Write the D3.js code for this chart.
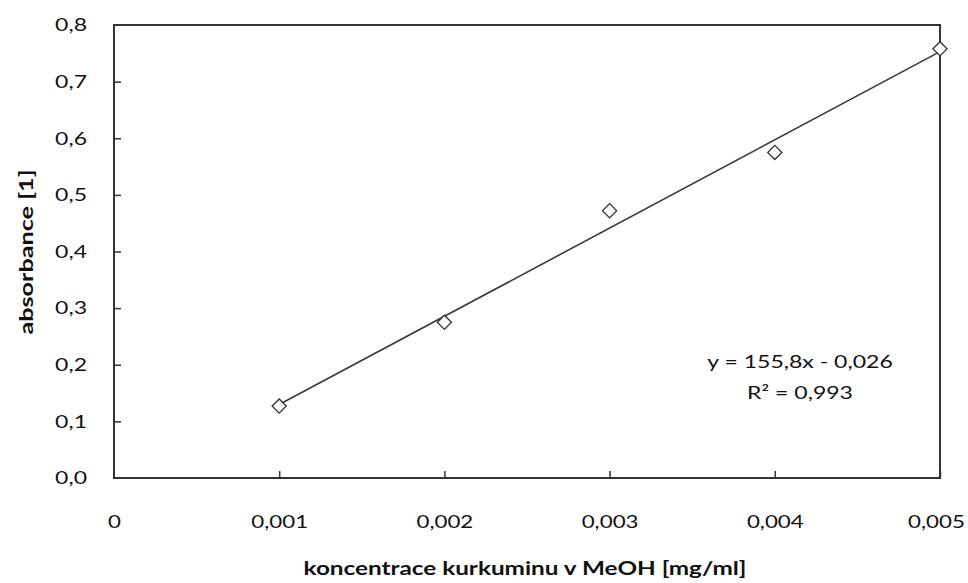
<!DOCTYPE html>
<html>
<head>
<meta charset="utf-8">
<script src="https://cdn.jsdelivr.net/npm/d3@7"></script>
<style>
  html, body { margin: 0; padding: 0; background: #fff; }
  svg { display: block; }
  text { font-family: Lato, "Open Sans", sans-serif; fill: #111; }
</style>
</head>
<body>
<svg id="chart" width="968" height="583"></svg>
<script>
// ---- data ----
const concentrations = [0.001, 0.002, 0.003, 0.004, 0.005];
const absorbance = [0.127, 0.275, 0.472, 0.575, 0.758];
const xTickValues = [0, 0.001, 0.002, 0.003, 0.004, 0.005];
const yTickValues = [0, 0.1, 0.2, 0.3, 0.4, 0.5, 0.6, 0.7, 0.8];
const trendSlope = 155.8;
const trendIntercept = -0.026;
const equationLines = ["y = 155,8x - 0,026", "R² = 0,993"];
const xTitle = "koncentrace kurkuminu  v MeOH [mg/ml]";
const yTitle = "absorbance [1]";

// ---- layout ----
const svg = d3.select("#chart");
const L = 114, R = 940, T = 25, B = 478;
const x = d3.scaleLinear().domain([0, 0.005]).range([L, R]);
const y = d3.scaleLinear().domain([0, 0.8]).range([B, T]);
const fmtX = v => v === 0 ? "0" : d3.format(".3f")(v).replace(".", ",");
const fmtY = v => d3.format(".1f")(v).replace(".", ",");
const frameColor = "#333";
const stretch = 1.24;

// axes (inward ticks)
const xAxis = svg.append("g").attr("transform", `translate(0,${B})`)
  .call(d3.axisBottom(x).tickValues(xTickValues).tickSize(-7).tickPadding(0).tickFormat(fmtX));
const yAxis = svg.append("g").attr("transform", `translate(${L},0)`)
  .call(d3.axisLeft(y).tickValues(yTickValues).tickSize(-7).tickPadding(0).tickFormat(fmtY));
[xAxis, yAxis].forEach(g => {
  g.select(".domain").remove();
  g.selectAll(".tick line").attr("stroke", frameColor).attr("stroke-width", 1.5);
  g.selectAll(".tick text").attr("font-family", "Lato, sans-serif").attr("font-size", 18).attr("fill", "#111");
});
xAxis.selectAll(".tick text").attr("y", 0).attr("dy", 0)
  .attr("transform", d => `translate(${d === 0.005 ? -4 : 0},50) scale(${stretch},1)`);
yAxis.selectAll(".tick text").attr("x", 0)
  .attr("transform", `translate(-27,0) scale(1.28,1)`);
xAxis.selectAll(".tick").filter(d => d === 0).select("line").remove();
yAxis.selectAll(".tick").filter(d => d === 0 || d === 0.8).select("line").remove();

// plot frame
svg.append("rect").attr("x", L).attr("y", T).attr("width", R - L).attr("height", B - T)
  .attr("fill", "none").attr("stroke", frameColor).attr("stroke-width", 2);

// trend line
const trend = [concentrations[0], concentrations[concentrations.length - 1]]
  .map(c => [c, trendSlope * c + trendIntercept]);
svg.append("path")
  .attr("d", d3.line().x(d => x(d[0])).y(d => y(d[1]))(trend))
  .attr("stroke", "#3a3a3a").attr("stroke-width", 1.6).attr("fill", "none");

// markers
svg.append("g").selectAll("path").data(concentrations).join("path")
  .attr("transform", (c, i) => `translate(${x(c)},${y(absorbance[i])}) rotate(45)`)
  .attr("d", d3.symbol(d3.symbolSquare, 100)())
  .attr("fill", "#fff").attr("stroke", "#333").attr("stroke-width", 1.3);

// equation
svg.append("g").selectAll("text").data(equationLines).join("text")
  .attr("transform", (d, i) => `translate(800,${368 + i * 31}) scale(1.28,1)`)
  .attr("text-anchor", "middle").attr("font-size", 18)
  .text(d => d);

// axis titles
svg.append("text").attr("transform", "translate(525,575) scale(1.35,1)").attr("text-anchor", "middle")
  .attr("font-size", 18).attr("font-weight", "bold").text(xTitle);
svg.append("text").attr("transform", "translate(33,252) rotate(-90) scale(1.4,1)").attr("text-anchor", "middle")
  .attr("font-size", 18).attr("font-weight", "bold").text(yTitle);
</script>
</body>
</html>
